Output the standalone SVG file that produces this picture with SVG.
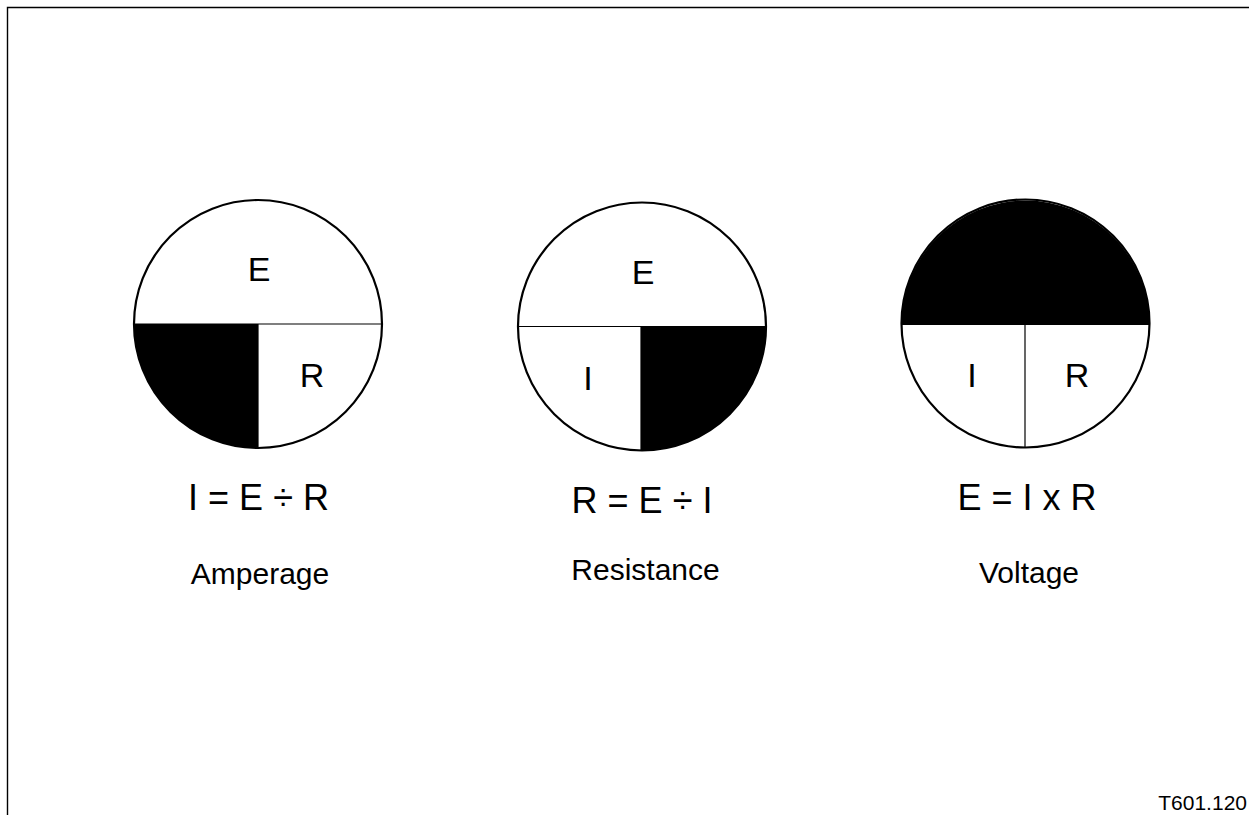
<svg xmlns="http://www.w3.org/2000/svg" width="1249" height="815" viewBox="0 0 1249 815">
<style>
.ring{fill:none;stroke:#000;stroke-width:2.2}
.div{stroke:#000;stroke-width:1.2;fill:none}
.blk{fill:#000}
.lt{font-family:"Liberation Sans",Arial,sans-serif;fill:#000;text-anchor:middle}
.in{font-size:34px}
.eq{font-size:36px}
.nm{font-size:30px}
</style>
<rect width="1249" height="815" fill="#fff"/>
<path d="M7.5,815 V7.5 H1249" fill="none" stroke="#000" stroke-width="1.4"/>
<g id="amperage">
<path class="blk" d="M258,324 L134,324 A124,124 0 0 0 258,448 Z"/>
<line class="div" x1="134" y1="324" x2="382" y2="324"/>
<line class="div" x1="258" y1="324" x2="258" y2="448"/>
<circle class="ring" cx="258" cy="324" r="124"/>
<text class="lt in" x="259" y="281">E</text>
<text class="lt in" x="312" y="387">R</text>
<text class="lt eq" x="258.5" y="509.5">I = E ÷ R</text>
<text class="lt nm" x="260" y="583.5" font-size="31">Amperage</text>
</g>
<g id="resistance">
<path class="blk" d="M641,326.5 L766,326.5 A124,124 0 0 1 641,450.5 Z"/>
<line class="div" x1="518" y1="326.5" x2="766" y2="326.5"/>
<line class="div" x1="641" y1="326.5" x2="641" y2="450.5"/>
<circle class="ring" cx="642" cy="326.5" r="124"/>
<text class="lt in" x="643" y="284">E</text>
<text class="lt in" x="588" y="390">I</text>
<text class="lt eq" x="642" y="512.5">R = E ÷ I</text>
<text class="lt nm" x="645.5" y="580">Resistance</text>
</g>
<g id="voltage">
<path class="blk" d="M901.5,324.5 A124,124 0 0 1 1149.5,324.5 Z"/>
<line class="div" x1="901.5" y1="324.5" x2="1149.5" y2="324.5"/>
<line class="div" x1="1025" y1="324.5" x2="1025" y2="447.5"/>
<circle class="ring" cx="1025.5" cy="323.5" r="124"/>
<text class="lt in" x="972" y="387">I</text>
<text class="lt in" x="1077" y="387">R</text>
<text class="lt eq" x="1027" y="509.5">E = I x R</text>
<text class="lt nm" x="1029" y="583" font-size="31">Voltage</text>
</g>
<g id="connectors"></g>
<text x="1247" y="810" font-family="'Liberation Sans',Arial,sans-serif" font-size="21" text-anchor="end">T601.120</text>
</svg>
